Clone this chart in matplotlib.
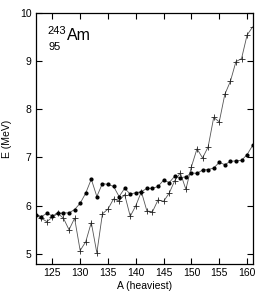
import numpy as np
import matplotlib
matplotlib.use("Agg")
import matplotlib.pyplot as plt

plt.rcParams['font.family'] = ['Liberation Sans', 'DejaVu Sans']

# mass number of the heaviest fragment
A = np.arange(122, 162)

# smooth series (filled dots)
E_dots = [5.81, 5.77, 5.84, 5.79, 5.84, 5.85, 5.85, 5.92, 6.05, 6.26,
          6.55, 6.19, 6.46, 6.44, 6.40, 6.19, 6.36, 6.24, 6.27, 6.29,
          6.36, 6.36, 6.40, 6.53, 6.48, 6.61, 6.58, 6.60, 6.68, 6.67,
          6.74, 6.75, 6.78, 6.90, 6.85, 6.92, 6.93, 6.94, 7.06, 7.25]

# fluctuating series (plus markers)
E_plus = [5.81, 5.74, 5.67, 5.76, 5.84, 5.74, 5.50, 5.74, 5.07, 5.25,
          5.65, 5.02, 5.83, 5.93, 6.14, 6.10, 6.23, 5.78, 6.00, 6.29,
          5.89, 5.875, 6.12, 6.09, 6.26, 6.52, 6.68, 6.34, 6.81, 7.18,
          6.99, 7.22, 7.83, 7.74, 8.31, 8.58, 8.99, 9.05, 9.54, 9.71]

fig = plt.figure(figsize=(2.64, 3.0), dpi=100)
ax = fig.add_axes([0.135, 0.12, 0.822, 0.837])

ax.plot(A, E_plus, color='#555555', lw=0.6, marker='+', ms=4, mec='#222222', mew=0.6)
ax.plot(A, E_dots, color='#555555', lw=0.6, marker='o', ms=2, mfc='black', mec='black')

ax.set_xlim(122, 161)
ax.set_ylim(4.79, 10)
ax.set_xticks([125, 130, 135, 140, 145, 150, 155, 160])
ax.set_yticks([5, 6, 7, 8, 9, 10])
ax.tick_params(direction='in', top=True, right=True, length=4, width=0.8, labelsize=7.5, pad=3)
for s in ax.spines.values():
    s.set_linewidth(0.9)

ax.set_xlabel('A (heaviest)', fontsize=7.5, labelpad=2)
ax.set_ylabel('E (MeV)', fontsize=7.5, labelpad=6)

# isotope label
fig.text(0.178, 0.887, '243', fontsize=8, va='baseline', ha='left')
fig.text(0.182, 0.833, '95', fontsize=8, va='baseline', ha='left')
fig.text(0.254, 0.867, 'Am', fontsize=11.5, va='baseline', ha='left')

fig.savefig('out.png', dpi=100)
